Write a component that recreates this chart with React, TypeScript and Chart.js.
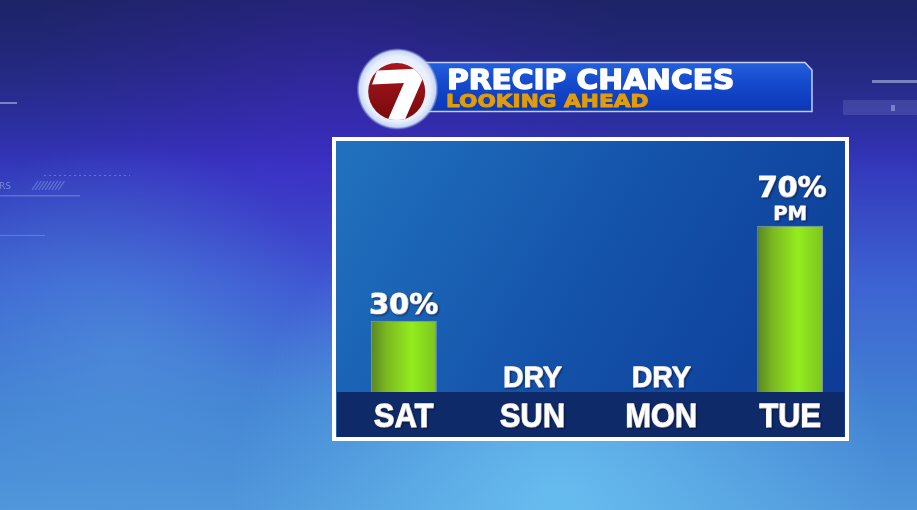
import React, { useEffect, useRef } from "react";
import { Chart, registerables } from "chart.js";

Chart.register(...registerables);

// ---- data ----
const days = ["SAT", "SUN", "MON", "TUE"];
const precipChance = [30, 0, 0, 70];
const notes = ["", "", "", "PM"];
const dryLabel = "DRY";
const titleText = "PRECIP CHANCES";
const subtitleText = "LOOKING AHEAD";
const yMin = 0;
const yMax = 100;

const W = 917;
const H = 510;
const BAR_PCT = 0.512;

function drawText(
  ctx: CanvasRenderingContext2D,
  text: string,
  x: number,
  y: number,
  font: string,
  fill: string | CanvasGradient,
  scaleX: number,
  align: CanvasTextAlign = "center",
  shadow = false,
  bolden = 0
) {
  ctx.save();
  ctx.font = font;
  ctx.fillStyle = fill;
  ctx.textAlign = align;
  ctx.textBaseline = "alphabetic";
  ctx.lineJoin = "round";
  if (shadow) {
    ctx.shadowColor = "rgba(0,0,30,0.45)";
    ctx.shadowBlur = 2;
    ctx.shadowOffsetX = 1;
    ctx.shadowOffsetY = 1;
  }
  ctx.translate(x, y);
  ctx.scale(scaleX, 1);
  if (bolden > 0) {
    ctx.strokeStyle = fill;
    ctx.lineWidth = bolden;
    ctx.strokeText(text, 0, 0);
  }
  ctx.fillText(text, 0, 0);
  ctx.restore();
}

function drawBackground(ctx: CanvasRenderingContext2D) {
  const g = ctx.createLinearGradient(0, 0, 0, H);
  g.addColorStop(0, "#232a76");
  g.addColorStop(0.3, "#3234b8");
  g.addColorStop(0.55, "#3d62d2");
  g.addColorStop(0.8, "#4282d2");
  g.addColorStop(1, "#4f96da");
  ctx.fillStyle = g;
  ctx.fillRect(0, 0, W, H);

  let r = ctx.createRadialGradient(330, 90, 10, 330, 90, 300);
  r.addColorStop(0, "rgba(70,40,210,0.55)");
  r.addColorStop(1, "rgba(70,40,210,0)");
  ctx.fillStyle = r;
  ctx.fillRect(0, 0, W, H);

  const d = ctx.createLinearGradient(0, 0, 0, 170);
  d.addColorStop(0, "rgba(25,30,90,0.55)");
  d.addColorStop(1, "rgba(25,30,90,0)");
  ctx.fillStyle = d;
  ctx.fillRect(0, 0, W, 170);

  r = ctx.createRadialGradient(560, 500, 10, 560, 500, 330);
  r.addColorStop(0, "rgba(110,200,245,0.75)");
  r.addColorStop(1, "rgba(110,200,245,0)");
  ctx.fillStyle = r;
  ctx.fillRect(0, 0, W, H);

  r = ctx.createRadialGradient(120, 360, 10, 120, 360, 220);
  r.addColorStop(0, "rgba(90,160,225,0.4)");
  r.addColorStop(1, "rgba(90,160,225,0)");
  ctx.fillStyle = r;
  ctx.fillRect(0, 0, W, H);

  ctx.save();
  ctx.fillStyle = "rgba(190,200,235,0.55)";
  ctx.fillRect(0, 102, 17, 2);
  ctx.fillRect(872, 80, 45, 3);
  ctx.fillStyle = "rgba(130,140,210,0.25)";
  ctx.fillRect(843, 100, 74, 15);
  ctx.fillStyle = "rgba(190,200,235,0.45)";
  ctx.fillRect(891, 105, 4, 6);
  ctx.fillStyle = "rgba(170,190,235,0.35)";
  ctx.fillRect(0, 195, 80, 1.5);
  ctx.fillRect(0, 235, 45, 1);
  ctx.strokeStyle = "rgba(170,190,235,0.4)";
  ctx.lineWidth = 1.2;
  for (let i = 0; i < 9; i++) {
    const x0 = 32 + i * 3.3;
    ctx.beginPath();
    ctx.moveTo(x0, 190);
    ctx.lineTo(x0 + 6, 181);
    ctx.stroke();
  }
  ctx.setLineDash([2, 3]);
  ctx.beginPath();
  ctx.moveTo(44, 175.5);
  ctx.lineTo(130, 175.5);
  ctx.stroke();
  ctx.setLineDash([]);
  ctx.font = "9px 'DejaVu Sans'";
  ctx.fillStyle = "rgba(190,200,235,0.5)";
  ctx.textAlign = "left";
  ctx.fillText("RS", -1, 189);
  ctx.restore();
}

function drawHeader(ctx: CanvasRenderingContext2D) {
  ctx.save();
  ctx.beginPath();
  ctx.moveTo(418, 62.5);
  ctx.lineTo(805, 62.5);
  ctx.lineTo(812, 70);
  ctx.lineTo(812, 111.5);
  ctx.lineTo(418, 111.5);
  ctx.closePath();
  const bg = ctx.createLinearGradient(0, 62, 0, 112);
  bg.addColorStop(0, "#2360dc");
  bg.addColorStop(0.45, "#1548cc");
  bg.addColorStop(1, "#0b37b4");
  ctx.fillStyle = bg;
  ctx.fill();
  ctx.lineWidth = 1.5;
  ctx.strokeStyle = "rgba(205,215,245,0.95)";
  ctx.stroke();
  ctx.restore();

  ctx.save();
  const rg = ctx.createRadialGradient(397.5, 89, 0, 397.5, 89, 41);
  rg.addColorStop(0, "#ffffff");
  rg.addColorStop(0.8, "#e8effc");
  rg.addColorStop(0.93, "#c9d7f5");
  rg.addColorStop(1, "rgba(150,170,235,0)");
  ctx.fillStyle = rg;
  ctx.beginPath();
  ctx.arc(397.5, 89, 41, 0, Math.PI * 2);
  ctx.fill();

  ctx.beginPath();
  ctx.arc(396.7, 91.6, 28.5, 0, Math.PI * 2);
  const red = ctx.createLinearGradient(0, 63, 0, 120);
  red.addColorStop(0, "#a8161c");
  red.addColorStop(1, "#780a0e");
  ctx.fillStyle = red;
  ctx.fill();
  ctx.clip();
  ctx.beginPath();
  ctx.moveTo(377, 70.5);
  ctx.lineTo(430, 68);
  ctx.lineTo(430, 74);
  ctx.lineTo(424, 76);
  ctx.lineTo(403, 124);
  ctx.lineTo(386, 124);
  ctx.lineTo(404, 83);
  ctx.lineTo(372, 84.5);
  ctx.closePath();
  ctx.fillStyle = "#ffffff";
  ctx.fill();
  ctx.restore();

  drawText(ctx, titleText, 447, 88.5, "bold 26px 'DejaVu Sans'", "#ffffff", 1.14, "left", false, 1.3);
  drawText(ctx, subtitleText, 446, 107, "bold 18.5px 'DejaVu Sans'", "#e09c0c", 1.17, "left", false, 1);
}

function drawPanel(ctx: CanvasRenderingContext2D, baseY: number) {
  ctx.save();
  const pg = ctx.createLinearGradient(336, 141, 845, 437);
  pg.addColorStop(0, "#2172be");
  pg.addColorStop(0.5, "#1452aa");
  pg.addColorStop(1, "#0c3a94");
  ctx.fillStyle = pg;
  ctx.fillRect(336, 141, 509, 296);
  ctx.fillStyle = "#0f2a68";
  ctx.fillRect(337, baseY, 507, 437 - baseY);
  ctx.strokeStyle = "#ffffff";
  ctx.lineWidth = 4;
  ctx.strokeRect(334, 139, 513, 300);
  ctx.restore();
}

const decorPlugin = {
  id: "decor",
  beforeDraw(chart: any) {
    const ctx = chart.ctx as CanvasRenderingContext2D;
    const ys = chart.scales.y;
    drawBackground(ctx);
    drawHeader(ctx);
    drawPanel(ctx, ys.getPixelForValue(0));
  },
  afterDatasetsDraw(chart: any) {
    const ctx = chart.ctx as CanvasRenderingContext2D;
    const xs = chart.scales.x;
    const ys = chart.scales.y;
    const base = ys.getPixelForValue(0);
    days.forEach((day, i) => {
      const x = xs.getPixelForValue(i);
      const v = precipChance[i];
      if (v > 0) {
        const top = ys.getPixelForValue(v);
        if (notes[i]) {
          drawText(ctx, notes[i], x, top - 5.5, "bold 19px 'DejaVu Sans'", "#ffffff", 1.04, "center", true, 0.8);
          drawText(ctx, v + "%", x + 2, top - 29, "bold 28px 'DejaVu Sans'", "#ffffff", 1.03, "center", true, 1.2);
        } else {
          drawText(ctx, v + "%", x, top - 7, "bold 28px 'DejaVu Sans'", "#ffffff", 1.03, "center", true, 1.2);
        }
      } else {
        drawText(ctx, dryLabel, x, base - 5, "bold 29.5px 'Liberation Sans'", "#ffffff", 0.96, "center", true, 1.3);
      }
      const tg = ctx.createLinearGradient(0, base + 11, 0, base + 35);
      tg.addColorStop(0, "#ffffff");
      tg.addColorStop(0.5, "#f4f4f4");
      tg.addColorStop(1, "#c4c6cc");
      drawText(ctx, day, x, base + 35, "bold 33.5px 'Liberation Sans'", tg, 0.92, "center", true, 1.4);
    });
  },
};

export default function App() {
  const ref = useRef<HTMLCanvasElement | null>(null);
  useEffect(() => {
    if (!ref.current) return;
    const chart = new Chart(ref.current, {
      type: "bar",
      data: {
        labels: days,
        datasets: [
          {
            data: precipChance,
            barPercentage: BAR_PCT,
            categoryPercentage: 1,
            borderWidth: 1,
            borderColor: "rgba(150,165,190,0.9)",
            borderSkipped: "bottom",
            backgroundColor: (c: any) => {
              const ch = c.chart;
              const ca = ch.chartArea;
              if (!ca || !ch.scales.x) return "#8fe41c";
              const cx = ch.scales.x.getPixelForValue(c.dataIndex);
              const w = ((ca.right - ca.left) / days.length) * BAR_PCT;
              const g = ch.ctx.createLinearGradient(cx - w / 2, 0, cx + w / 2, 0);
              g.addColorStop(0, "#5a8524");
              g.addColorStop(0.25, "#7cba20");
              g.addColorStop(0.62, "#93ec1e");
              g.addColorStop(1, "#7cc41e");
              return g;
            },
          } as any,
        ],
      },
      options: {
        responsive: false,
        maintainAspectRatio: false,
        devicePixelRatio: 1,
        animation: false,
        layout: { padding: { left: 339.4, right: 62.4, top: 154.5, bottom: 118 } },
        plugins: { legend: { display: false }, tooltip: { enabled: false } },
        scales: {
          x: { display: false, offset: true, grid: { display: false } },
          y: { display: false, min: yMin, max: yMax, grid: { display: false } },
        },
      },
      plugins: [decorPlugin],
    });
    return () => chart.destroy();
  }, []);
  return (
    <div style={{ position: "fixed", left: 0, top: 0, width: W, height: H, overflow: "hidden" }}>
      <canvas ref={ref} width={W} height={H} style={{ display: "block", width: W, height: H }} />
    </div>
  );
}
